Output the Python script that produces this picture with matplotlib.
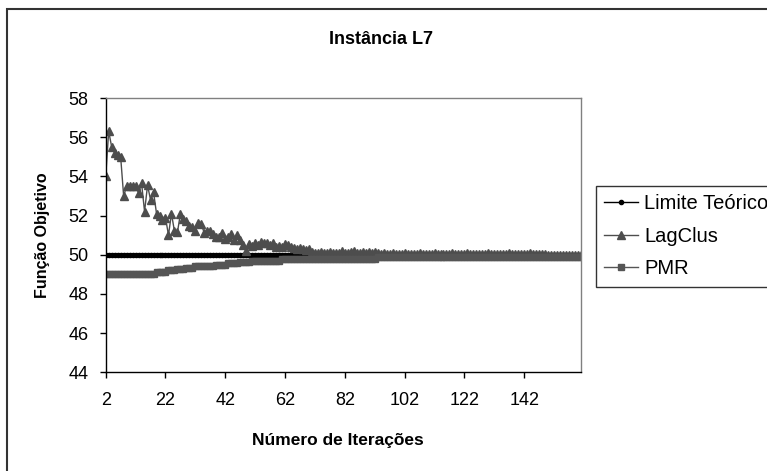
import matplotlib
matplotlib.use("Agg")
import matplotlib.pyplot as plt
from matplotlib.patches import Rectangle

plt.rcParams['font.family'] = ['Liberation Sans', 'DejaVu Sans']

# ---- data ----
iterations = list(range(2, 162))

limite_teorico = [50.0] * 160

lagclus = [
    54.0, 56.3, 55.5, 55.2, 55.1, 55.0, 53.0, 53.5, 53.5, 53.5,   # 2-11
    53.5, 53.15, 53.65, 52.2, 53.55, 52.8, 53.2, 52.1, 52.0, 51.75,  # 12-21
    51.9, 51.0, 52.1, 51.2, 51.15, 52.1, 51.8, 51.7, 51.45, 51.4,  # 22-31
    51.2, 51.6, 51.55, 51.1, 51.2, 51.2, 51.05, 50.9, 50.9, 51.1,  # 32-41
    50.8, 50.9, 51.05, 50.75, 51.0, 50.75, 50.5, 50.2, 50.55, 50.45,  # 42-51
    50.6, 50.5, 50.65, 50.6, 50.6, 50.5, 50.6, 50.4, 50.45, 50.4,  # 52-61
    50.55, 50.5, 50.4, 50.35, 50.3, 50.35, 50.3, 50.25, 50.3, 50.15,  # 62-71
    50.1, 50.1, 50.15, 50.1, 50.1, 50.15, 50.1, 50.1, 50.1, 50.2,  # 72-81
    50.1, 50.1, 50.15, 50.2, 50.1, 50.1, 50.15, 50.1, 50.15, 50.1,  # 82-91
    50.15, 50.1, 50.05, 50.1, 50.05, 50.05, 50.1, 50.05, 50.05, 50.05,  # 92-101
    50.1, 50.05, 50.05, 50.05, 50.05, 50.1, 50.05, 50.05, 50.05, 50.05,  # 102-111
    50.1, 50.05, 50.05, 50.05, 50.05, 50.05, 50.1, 50.05, 50.05, 50.05,  # 112-121
    50.05, 50.1, 50.05, 50.05, 50.05, 50.05, 50.05, 50.05, 50.1, 50.05,  # 122-131
    50.05, 50.05, 50.05, 50.05, 50.05, 50.1, 50.05, 50.05, 50.05, 50.05,  # 132-141
    50.05, 50.05, 50.1, 50.05, 50.05, 50.05, 50.05, 50.05, 50.0, 50.0,  # 142-151
    50.0, 50.0, 50.0, 50.0, 50.0, 50.0, 50.0, 50.0, 50.0, 50.0,  # 152-161
]

pmr = (
    [49.0] * 17 +      # 2-18
    [49.1] * 4 +       # 19-22
    [49.2] * 3 +       # 23-25
    [49.25] * 3 +      # 26-28
    [49.3] * 3 +       # 29-31
    [49.4] * 3 +       # 32-34
    [49.45] * 4 +      # 35-38
    [49.5] * 4 +       # 39-42
    [49.6] * 4 +       # 43-46
    [49.65] * 4 +      # 47-50
    [49.7] * 10 +      # 51-60
    [49.77] * 32 +     # 61-92
    [49.87] * 69       # 93-161
)

x_ticks = [2, 22, 42, 62, 82, 102, 122, 142]
y_ticks = [44, 46, 48, 50, 52, 54, 56, 58]

# ---- figure ----
W, H = 767, 471
fig = plt.figure(figsize=(W / 100, H / 100), dpi=100)
fig.patch.set_facecolor('white')

# chart-area border
fig.add_artist(Rectangle((7 / W, -0.1), 1.2, (1 - 9 / H) + 0.1,
                         transform=fig.transFigure, fill=False,
                         edgecolor='#333333', linewidth=1.5))

left, right, top, bottom = 105.7, 581, 98, 372.3
ax = fig.add_axes([left / W, 1 - bottom / H, (right - left) / W, (bottom - top) / H])

ax.plot(iterations, limite_teorico, color='black', linewidth=1.0,
        marker='o', markersize=3, label='Limite Teórico')
ax.plot(iterations, lagclus, color='#4d4d4d', linewidth=1.0,
        marker='^', markersize=5.5, label='LagClus')
ax.plot(iterations, pmr, color='#555555', linewidth=1.0,
        marker='s', markersize=4.8, label='PMR')

ax.set_xlim(2, 161)
ax.set_ylim(44, 58)
ax.set_xticks(x_ticks)
ax.set_yticks(y_ticks)
ax.tick_params(axis='x', direction='out', length=4.3, width=1, pad=10, labelsize=13)
ax.tick_params(axis='y', direction='out', length=4.3, width=1, pad=8, labelsize=13)

for s in ('left', 'bottom'):
    ax.spines[s].set_color('black')
    ax.spines[s].set_linewidth(1)
for s in ('top', 'right'):
    ax.spines[s].set_color('#808080')
    ax.spines[s].set_linewidth(1)

fig.text(381 / W, 1 - 40 / H, 'Instância L7', ha='center', va='center',
         fontsize=13, fontweight='bold')
fig.text(338 / W, 1 - 440 / H, 'Número de Iterações', ha='center', va='center',
         fontsize=12.5, fontweight='bold')
fig.text(42 / W, 1 - 235 / H, 'Função Objetivo', ha='center', va='center',
         rotation=90, fontsize=11.5, fontweight='bold')

leg = fig.legend(loc='upper left', bbox_to_anchor=(596 / W, 1 - 186 / H),
                 fontsize=14.5, frameon=True, fancybox=False,
                 handlelength=1.7, handletextpad=0.3, labelspacing=0.68,
                 borderpad=0.4, borderaxespad=0)
leg.get_frame().set_edgecolor('black')
leg.get_frame().set_linewidth(1)

fig.savefig('out.png', dpi=100)
